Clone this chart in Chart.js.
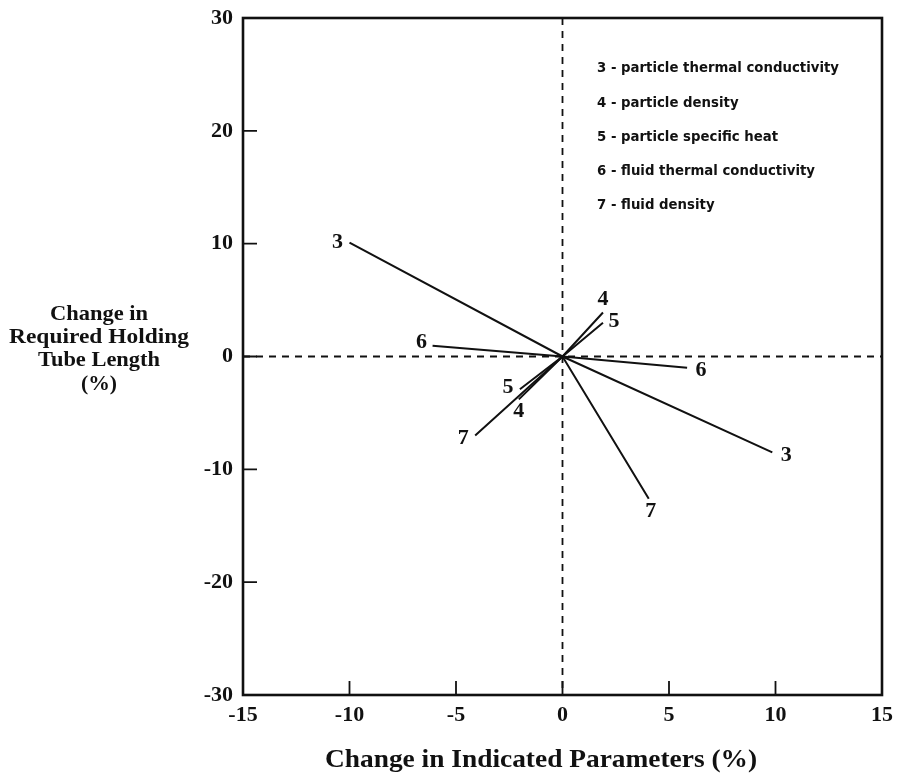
<!DOCTYPE html>
<html>
<head>
<meta charset="utf-8">
<script src="https://cdn.jsdelivr.net/npm/chart.js@4/dist/chart.umd.min.js"></script>
<style>
  html, body { margin: 0; padding: 0; background: #fff; }
  #wrap { width: 900px; height: 780px; }
</style>
</head>
<body>
<div id="wrap"><canvas id="sens" width="900" height="780"></canvas></div>
<script>
// valores: extremo negativo, origen, extremo positivo
var names = ["3", "4", "5", "6", "7"];
var x3 = [-10.0, 0, 9.85], y3 = [10.1, 0, -8.5];
var x4 = [-2.05, 0, 1.9],  y4 = [-3.8, 0, 3.9];
var x5 = [-2.0, 0, 1.9],   y5 = [-2.9, 0, 3.0];
var x6 = [-6.1, 0, 5.85],  y6 = [0.95, 0, -1.0];
var x7 = [-4.1, 0, 4.05],  y7 = [-7.0, 0, -12.6];

var legendLines = [
    "3 - particle thermal conductivity",
    "4 - particle density",
    "5 - particle specific heat",
    "6 - fluid thermal conductivity",
    "7 - fluid density"
];
var xTicks = [-15, -10, -5, 0, 5, 10, 15];
var yTicks = [-30, -20, -10, 0, 10, 20, 30];
var yTitle = ["Change in", "Required Holding", "Tube Length", "(%)"];
var xTitle = "Change in Indicated Parameters (%)";

// desplazamiento de las etiquetas (px) para cada extremo [neg, pos]
var labelOffsets = {
    "3": [[-12, 0], [14, 3]],
    "4": [[0, 12], [0, -13]],
    "5": [[-12, -2], [11, -1]],
    "6": [[-11, -3], [14, 3]],
    "7": [[-12, 3], [2, 13]]
};

var serif = "'Liberation Serif', 'Times New Roman', serif";

function pts(xs, ys) {
    return xs.map(function (v, i) { return {x: v, y: ys[i]}; });
}

// texto centrado y estirado en horizontal hasta el ancho dado
function fillWide(ctx, t, cx, cy, w) {
    var k = w / ctx.measureText(t).width;
    ctx.save();
    ctx.translate(cx, cy);
    ctx.scale(k, 1);
    ctx.fillText(t, 0, 0);
    ctx.restore();
}

var series = [pts(x3, y3), pts(x4, y4), pts(x5, y5), pts(x6, y6), pts(x7, y7)];

var datasets = series.map(function (d, i) {
    return {
        label: names[i],
        data: d,
        showLine: true,
        borderColor: '#111',
        borderWidth: 2,
        pointRadius: 0,
        fill: false
    };
});

var decor = {
    id: 'decor',
    beforeDatasetsDraw: function (chart) {
        var ctx = chart.ctx, a = chart.chartArea;
        var sx = chart.scales.x, sy = chart.scales.y;
        ctx.save();
        // lineas de cero punteadas
        ctx.strokeStyle = '#111';
        ctx.lineWidth = 1.8;
        ctx.setLineDash([7, 6]);
        ctx.beginPath();
        ctx.moveTo(sx.getPixelForValue(0), a.top);
        ctx.lineTo(sx.getPixelForValue(0), a.bottom);
        ctx.moveTo(a.left, sy.getPixelForValue(0));
        ctx.lineTo(a.right, sy.getPixelForValue(0));
        ctx.stroke();
        ctx.restore();
    },
    afterDraw: function (chart) {
        var ctx = chart.ctx, a = chart.chartArea;
        var sx = chart.scales.x, sy = chart.scales.y;
        ctx.save();
        ctx.strokeStyle = '#111';
        ctx.lineWidth = 2.6;
        ctx.strokeRect(a.left, a.top, a.right - a.left, a.bottom - a.top);

        // marcas hacia dentro
        ctx.lineWidth = 1.8;
        ctx.beginPath();
        xTicks.slice(1, -1).forEach(function (v) {
            var px = sx.getPixelForValue(v);
            ctx.moveTo(px, a.bottom);
            ctx.lineTo(px, a.bottom - 14);
        });
        yTicks.slice(1, -1).forEach(function (v) {
            var py = sy.getPixelForValue(v);
            ctx.moveTo(a.left, py);
            ctx.lineTo(a.left + 14, py);
        });
        ctx.stroke();

        // numeros en los extremos de las lineas
        ctx.fillStyle = '#111';
        ctx.font = "bold 22px " + serif;
        ctx.textAlign = 'center';
        ctx.textBaseline = 'middle';
        series.forEach(function (d, i) {
            var off = labelOffsets[names[i]];
            [d[0], d[d.length - 1]].forEach(function (p, k) {
                var px = sx.getPixelForValue(p.x) + off[k][0];
                var py = sy.getPixelForValue(p.y) + off[k][1];
                ctx.fillText(names[i], px, py);
            });
        });

        // leyenda
        ctx.font = "bold 13.3px 'DejaVu Sans', sans-serif";
        ctx.textAlign = 'left';
        legendLines.forEach(function (t, i) {
            ctx.fillText(t, 597, 69 + i * 34.2);
        });

        // titulos
        ctx.font = "bold 22px " + serif;
        ctx.textAlign = 'center';
        var wY = [98, 180, 122, 36];
        yTitle.forEach(function (t, i) {
            fillWide(ctx, t, 99, 314 + i * 23.3, wY[i]);
        });
        ctx.font = "bold 25px " + serif;
        fillWide(ctx, xTitle, 541, 761, 432);
        ctx.restore();
    }
};

new Chart(document.getElementById('sens'), {
    type: 'scatter',
    data: { datasets: datasets },
    options: {
        responsive: false,
        animation: false,
        layout: { padding: { top: 18, right: 18, left: 0, bottom: 0 } },
        plugins: { legend: { display: false }, tooltip: { enabled: false } },
        scales: {
            x: {
                type: 'linear', min: -15, max: 15,
                afterFit: function (s) { s.height = 85; },
                afterBuildTicks: function (s) { s.ticks = xTicks.map(function (v) { return {value: v}; }); },
                grid: { display: false },
                border: { display: false },
                ticks: { color: '#111', padding: -1, autoSkip: false, maxRotation: 0,
                         font: { family: serif, size: 22, weight: 'bold' } }
            },
            y: {
                type: 'linear', min: -30, max: 30,
                afterFit: function (s) { s.width = 243; },
                afterBuildTicks: function (s) { s.ticks = yTicks.map(function (v) { return {value: v}; }); },
                grid: { display: false },
                border: { display: false },
                ticks: { color: '#111', padding: 2, autoSkip: false,
                         font: { family: serif, size: 22, weight: 'bold' } }
            }
        }
    },
    plugins: [decor]
});
</script>
</body>
</html>
